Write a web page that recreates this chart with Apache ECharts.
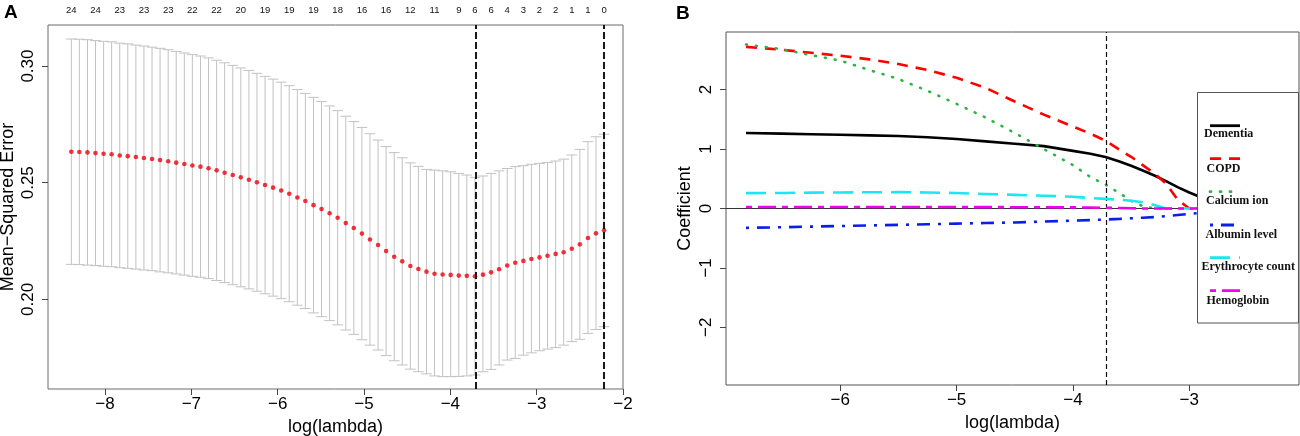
<!DOCTYPE html>
<html>
<head>
<meta charset="utf-8">
<script src="https://cdn.jsdelivr.net/npm/echarts@6/dist/echarts.min.js"></script>
<style>
html,body{margin:0;padding:0;background:#fff;}
#c{width:1300px;height:436px;}
</style>
</head>
<body>
<div id="c"></div>
<script>
// ---------- Panel A: cross-validation curve ----------
const lambdaX = [-8.390,-8.297,-8.203,-8.110,-8.016,-7.923,-7.829,-7.736,-7.642,-7.549,
  -7.455,-7.362,-7.268,-7.175,-7.081,-6.988,-6.894,-6.801,-6.707,-6.614,
  -6.520,-6.427,-6.333,-6.240,-6.146,-6.053,-5.959,-5.866,-5.772,-5.679,
  -5.585,-5.492,-5.398,-5.305,-5.211,-5.118,-5.024,-4.931,-4.837,-4.744,
  -4.650,-4.557,-4.463,-4.370,-4.276,-4.183,-4.089,-3.996,-3.902,-3.809,
  -3.715,-3.622,-3.528,-3.435,-3.341,-3.248,-3.154,-3.061,-2.967,-2.874,
  -2.780,-2.687,-2.593,-2.500,-2.406,-2.313,-2.219];
const cvMean = [0.2633,0.2632,0.2630,0.2627,0.2624,0.2622,0.2617,0.2614,0.2610,0.2606,
  0.2602,0.2597,0.2592,0.2586,0.2580,0.2574,0.2569,0.2562,0.2553,0.2543,
  0.2533,0.2523,0.2513,0.2502,0.2490,0.2479,0.2467,0.2453,0.2437,0.2422,
  0.2404,0.2387,0.2369,0.2350,0.2327,0.2306,0.2282,0.2257,0.2233,0.2207,
  0.2183,0.2163,0.2143,0.2130,0.2119,0.2110,0.2107,0.2105,0.2102,0.2101,
  0.2099,0.2106,0.2116,0.2129,0.2145,0.2157,0.2165,0.2173,0.2180,0.2187,
  0.2195,0.2202,0.2217,0.2236,0.2263,0.2283,0.2296];
const cvUp = [0.3116,0.3115,0.3113,0.3109,0.3106,0.3104,0.3098,0.3095,0.3090,0.3086,
  0.3081,0.3076,0.3070,0.3063,0.3056,0.3049,0.3043,0.3035,0.3025,0.3014,
  0.3003,0.2992,0.2981,0.2969,0.2956,0.2944,0.2931,0.2916,0.2899,0.2883,
  0.2866,0.2848,0.2829,0.2809,0.2785,0.2762,0.2737,0.2710,0.2683,0.2655,
  0.2629,0.2607,0.2585,0.2570,0.2557,0.2554,0.2551,0.2547,0.2540,0.2533,
  0.2523,0.2529,0.2540,0.2551,0.2561,0.2569,0.2573,0.2579,0.2583,0.2587,
  0.2593,0.2601,0.2619,0.2643,0.2676,0.2697,0.2708];
const cvLo = [0.2150,0.2149,0.2147,0.2145,0.2142,0.2140,0.2136,0.2133,0.2130,0.2126,
  0.2123,0.2118,0.2114,0.2109,0.2104,0.2099,0.2095,0.2089,0.2081,0.2072,
  0.2063,0.2054,0.2045,0.2035,0.2024,0.2014,0.2003,0.1990,0.1975,0.1961,
  0.1942,0.1926,0.1909,0.1891,0.1869,0.1850,0.1827,0.1804,0.1783,0.1759,
  0.1737,0.1719,0.1701,0.1690,0.1681,0.1672,0.1669,0.1669,0.1670,0.1672,
  0.1676,0.1690,0.1700,0.1719,0.1740,0.1747,0.1761,0.1771,0.1780,0.1787,
  0.1794,0.1804,0.1819,0.1829,0.1854,0.1871,0.1883];
const nzeroLabels = ['24','24','23','23','23','22','22','20','19','19','19','18','16','16','12','11','9','6','6','4','3','2','2','1','1','0'];
const nzeroIndex = [0,3,6,9,12,15,18,21,24,27,30,33,36,39,42,45,48,50,52,54,56,58,60,62,64,66];
const selectedLambdaA = [-3.715, -2.219];
const xTicksA = [-8,-7,-6,-5,-4,-3,-2];
const yTicksA = [0.20,0.25,0.30];

// ---------- Panel B: coefficient paths ----------
const pathX = [-6.81,-6.5,-6.25,-6.0,-5.75,-5.5,-5.25,-5.0,-4.75,-4.5,-4.25,-4.0,-3.85,-3.72,-3.6,-3.5,-3.4,-3.3,-3.2,-3.1,-3.0,-2.9,-2.8,-2.6,-2.4,-2.22];
const varNames = ['Dementia','COPD','Calcium ion','Albumin level','Erythrocyte count','Hemoglobin'];
const coefDementia = [1.27,1.26,1.25,1.24,1.23,1.22,1.20,1.17,1.13,1.09,1.05,0.97,0.92,0.865,0.79,0.72,0.64,0.555,0.46,0.36,0.27,0.19,0.12,0.05,0.01,0];
const coefCOPD = [2.72,2.67,2.62,2.57,2.51,2.43,2.33,2.20,2.03,1.80,1.58,1.38,1.26,1.14,0.99,0.87,0.73,0.59,0.42,0.15,0,0,0,0,0,0];
const coefCalcium = [2.76,2.68,2.58,2.49,2.33,2.18,1.98,1.76,1.53,1.27,1.00,0.73,0.53,0.40,0.26,0.13,0.04,0,0,0,0,0,0,0,0,0];
const coefAlbumin = [-0.326,-0.315,-0.305,-0.295,-0.285,-0.275,-0.265,-0.255,-0.245,-0.235,-0.22,-0.205,-0.195,-0.185,-0.175,-0.165,-0.155,-0.145,-0.13,-0.11,-0.09,-0.075,-0.06,-0.035,-0.01,0];
const coefErythro = [0.258,0.262,0.267,0.27,0.273,0.275,0.27,0.26,0.245,0.23,0.215,0.198,0.175,0.162,0.148,0.13,0.105,0.06,0,0,0,0,0,0,0,0];
const coefHemo = [0.025,0.025,0.025,0.025,0.025,0.025,0.024,0.024,0.023,0.022,0.021,0.019,0.016,0.012,0.008,0.004,0,0,0,0,0,0,0,0,0,0];
const selectedLambdaB = [-3.715];
const xTicksB = [-6,-5,-4,-3];
const yTicksB = [-2,-1,0,1,2];

// ---------- styles ----------
const FONT = "'Liberation Sans', Arial, sans-serif";
const SERIF = "'Liberation Serif', 'Times New Roman', serif";
const coefs = [coefDementia, coefCOPD, coefCalcium, coefAlbumin, coefErythro, coefHemo];
const lineStyles = [
  {color:'#000000', type:'solid'},
  {color:'#FF0000', type:[11,8]},
  {color:'#2DB43F', type:[1,9], cap:'round'},
  {color:'#0A1EE6', type:[3,8,13,8]},
  {color:'#1CE6EF', type:[20,9]},
  {color:'#F000F0', type:[6,6,18,6]}
];
const minus = v => (v < 0 ? '\u2212' + Math.abs(v) : String(v));
const capHalf = 0.0617;

const chart = echarts.init(document.getElementById('c'), null, {renderer:'canvas'});

const series = [];
series.push({
  type:'custom', xAxisIndex:0, yAxisIndex:0, silent:true,
  data: lambdaX.map((x,i)=>[x, cvUp[i], cvLo[i]]),
  encode:{x:0, y:[1,2]},
  renderItem:function(params, api){
    const x = api.value(0), hi = api.value(1), lo = api.value(2);
    const pH = api.coord([x,hi]), pL = api.coord([x,lo]);
    const hw = api.size([capHalf,0])[0];
    const st = {stroke:'#c2c2c2', lineWidth:1};
    return {type:'group', children:[
      {type:'line', shape:{x1:pH[0],y1:pH[1],x2:pL[0],y2:pL[1]}, style:st},
      {type:'line', shape:{x1:pH[0]-hw,y1:pH[1],x2:pH[0]+hw,y2:pH[1]}, style:st},
      {type:'line', shape:{x1:pL[0]-hw,y1:pL[1],x2:pL[0]+hw,y2:pL[1]}, style:st}
    ]};
  }
});
series.push({
  type:'scatter', xAxisIndex:0, yAxisIndex:0, silent:true,
  data: lambdaX.map((x,i)=>[x, cvMean[i]]),
  symbol:'circle', symbolSize:4.6,
  itemStyle:{color:'#F00010'},
  markLine:{
    silent:true, symbol:'none', label:{show:false},
    lineStyle:{color:'#000', type:[7,3], width:1.8},
    data: selectedLambdaA.map(v=>({xAxis:v}))
  }
});
coefs.forEach((arr, k)=>{
  const s = {
    name: varNames[k], type:'line', xAxisIndex:2, yAxisIndex:1, silent:true,
    showSymbol:false, symbol:'none', smooth:false,
    data: pathX.map((x,i)=>[x, arr[i]]),
    lineStyle:{color:lineStyles[k].color, type:lineStyles[k].type, width:2.6, cap:lineStyles[k].cap||'butt'},
    itemStyle:{color:lineStyles[k].color},
    z: 2 + k
  };
  if (k === 0) {
    s.markLine = {
      silent:true, symbol:'none', label:{show:false},
      data:[
        {yAxis:0, lineStyle:{color:'#333', type:'solid', width:1}},
        ...selectedLambdaB.map(v=>({xAxis:v, lineStyle:{color:'#111', type:[5,3], width:1.2}}))
      ]
    };
  }
  series.push(s);
});

// legend drawn as graphic (line sample above the text, like the original)
const legendLineY = [125.7, 158.7, 191.7, 225, 257.7, 290.7];
const legendTextY = [134, 169, 201, 235, 267, 301];
const legendTextX = [1204, 1206.5, 1206, 1205.5, 1201.5, 1206.5];
const graphics = [{
  type:'rect', z:100, shape:{x:1197.5, y:92.5, width:101, height:230.5},
  style:{fill:'#fff', stroke:'#555', lineWidth:1}
}];
varNames.forEach((n,k)=>{
  graphics.push({type:'line', z:101, shape:{x1:1210, y1:legendLineY[k], x2:1240, y2:legendLineY[k]},
    style:{stroke:lineStyles[k].color, lineWidth:2.8, lineDash: lineStyles[k].type==='solid'?null:lineStyles[k].type, lineCap:lineStyles[k].cap||'butt'}});
  graphics.push({type:'text', z:101, x:legendTextX[k], y:legendTextY[k],
    style:{text:n, font:'bold 12px ' + SERIF, fill:'#111', textVerticalAlign:'middle', verticalAlign:'middle'}});
});

const axisLabelBase = {color:'#000', fontSize:17, fontFamily:FONT};
const option = {
  animation:false,
  backgroundColor:'#fff',
  title:[
    {text:'A', left:4, top:3, padding:0, textStyle:{fontSize:19, fontWeight:'bold', fontFamily:FONT, color:'#000'}},
    {text:'B', left:676, top:4, padding:0, textStyle:{fontSize:19, fontWeight:'bold', fontFamily:FONT, color:'#000'}}
  ],
  grid:[
    {left:48, top:25, right:677, bottom:47, show:true, borderColor:'#6a6a6a', borderWidth:1, backgroundColor:'transparent', containLabel:false, outerBoundsMode:'none'},
    {left:726, top:32, right:1, bottom:51, show:true, borderColor:'#555', borderWidth:1, backgroundColor:'transparent', containLabel:false, outerBoundsMode:'none'}
  ],
  xAxis:[
    {type:'value', gridIndex:0, min:-8.66, max:-2.0, position:'bottom',
      name:'log(lambda)', nameLocation:'middle', nameGap:24,
      nameTextStyle:{fontSize:18, fontFamily:FONT, color:'#000'},
      axisLine:{show:false, onZero:false}, splitLine:{show:false},
      axisTick:{show:true, inside:false, length:6, lineStyle:{color:'#444'}, customValues:xTicksA},
      axisLabel:Object.assign({}, axisLabelBase, {margin:7, customValues:xTicksA, formatter:minus})},
    {type:'value', gridIndex:0, min:-8.66, max:-2.0, position:'top',
      axisLine:{show:false, onZero:false}, splitLine:{show:false}, axisTick:{show:false},
      axisLabel:{color:'#111', fontSize:9.5, fontFamily:FONT, margin:10,
        customValues: nzeroIndex.map(i=>lambdaX[i]),
        formatter:function(v){
          for (let k=0;k<nzeroIndex.length;k++){ if (Math.abs(lambdaX[nzeroIndex[k]]-v)<1e-6) return nzeroLabels[k]; }
          return '';
        }}},
    {type:'value', gridIndex:1, min:-6.982, max:-2.057, position:'bottom',
      name:'log(lambda)', nameLocation:'middle', nameGap:26,
      nameTextStyle:{fontSize:18, fontFamily:FONT, color:'#000'},
      axisLine:{show:false, onZero:false}, splitLine:{show:false},
      axisTick:{show:true, inside:false, length:6, lineStyle:{color:'#444'}, customValues:xTicksB},
      axisLabel:Object.assign({}, axisLabelBase, {margin:7, customValues:xTicksB, formatter:minus})}
  ],
  yAxis:[
    {type:'value', gridIndex:0, min:0.1616, max:0.3176,
      name:'Mean\u2212Squared Error', nameLocation:'middle', nameGap:31, nameRotate:90,
      nameTextStyle:{fontSize:18, fontFamily:FONT, color:'#000'},
      axisLine:{show:false, onZero:false}, splitLine:{show:false},
      axisTick:{show:true, inside:false, length:6, lineStyle:{color:'#444'}, customValues:yTicksA},
      axisLabel:Object.assign({}, axisLabelBase, {rotate:90, margin:11, customValues:yTicksA, formatter:v=>v.toFixed(2)})},
    {type:'value', gridIndex:1, min:-2.97, max:2.97,
      name:'Coefficient', nameLocation:'middle', nameGap:31.5, nameRotate:90,
      nameTextStyle:{fontSize:18, fontFamily:FONT, color:'#000'},
      axisLine:{show:false, onZero:false}, splitLine:{show:false},
      axisTick:{show:true, inside:false, length:6, lineStyle:{color:'#444'}, customValues:yTicksB},
      axisLabel:Object.assign({}, axisLabelBase, {rotate:90, margin:11, customValues:yTicksB, formatter:minus})}
  ],
  graphic: graphics,
  series: series
};
chart.setOption(option);
</script>
</body>
</html>
